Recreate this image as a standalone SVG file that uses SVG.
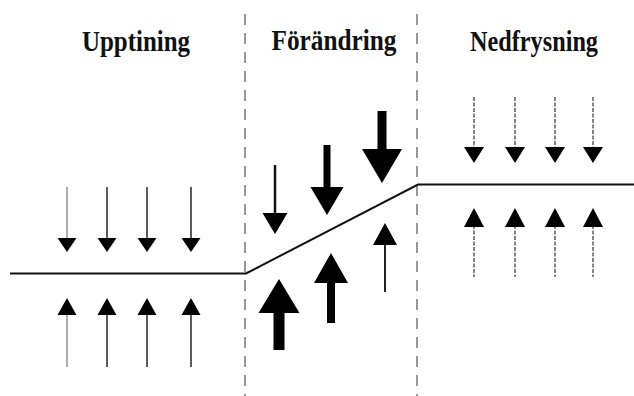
<svg xmlns="http://www.w3.org/2000/svg" width="634" height="396" viewBox="0 0 634 396">
<style>
.title{font-family:"Liberation Serif","Times New Roman",serif;font-weight:bold;font-size:29px;fill:#111;text-anchor:middle}
.div{stroke:#777;stroke-width:1.5;stroke-dasharray:11 8;fill:none}
.bound{stroke:#111;stroke-width:2;fill:none}
.shaft{stroke:#333;stroke-width:1.6}
.shaftl{stroke:#999;stroke-width:1.6}
.shaftd{stroke:#666;stroke-width:1.6;stroke-dasharray:4 1.5}
.head{fill:#000}
</style>
<rect width="634" height="396" fill="#fff"/>
<g id="titles">
<text class="title" x="136" y="51" textLength="108" lengthAdjust="spacingAndGlyphs">Upptining</text>
<text class="title" x="334" y="50" textLength="125" lengthAdjust="spacingAndGlyphs">Förändring</text>
<text class="title" x="534" y="51" textLength="128" lengthAdjust="spacingAndGlyphs">Nedfrysning</text>
</g>
<g id="dividers">
<line class="div" x1="245" y1="14" x2="245" y2="396"/>
<line class="div" x1="417" y1="14" x2="417" y2="396"/>
</g>
<g id="boundary">
<polyline class="bound" points="10,273.5 246,273.5 418,184.5 634,184.5"/>
</g>
<g id="upptining-arrows">
<line class="shaftl" x1="67" y1="187" x2="67" y2="240"/><polygon class="head" points="57.5,238 76.5,238 67,252"/>
<line class="shaft" x1="107" y1="187" x2="107" y2="240"/><polygon class="head" points="97.5,238 116.5,238 107,252"/>
<line class="shaft" x1="147" y1="187" x2="147" y2="240"/><polygon class="head" points="137.5,238 156.5,238 147,252"/>
<line class="shaft" x1="191" y1="187" x2="191" y2="240"/><polygon class="head" points="181.5,238 200.5,238 191,252"/>
<line class="shaftl" x1="67" y1="313" x2="67" y2="367"/><polygon class="head" points="57.5,315 76.5,315 67,298"/>
<line class="shaft" x1="107" y1="313" x2="107" y2="367"/><polygon class="head" points="97.5,315 116.5,315 107,298"/>
<line class="shaft" x1="147" y1="313" x2="147" y2="367"/><polygon class="head" points="137.5,315 156.5,315 147,298"/>
<line class="shaft" x1="191" y1="313" x2="191" y2="367"/><polygon class="head" points="181.5,315 200.5,315 191,298"/>
</g>
<g id="forandring-arrows">
<line x1="275" y1="165" x2="275" y2="215" stroke="#111" stroke-width="2.5"/><polygon class="head" points="262.5,213 287.5,213 275,234"/>
<polygon class="head" points="323.5,145 330.5,145 330.5,187 343.5,187 327,215 310.5,187 323.5,187"/>
<polygon class="head" points="377.5,111 386.5,111 386.5,149 402,149 382,183 362,149 377.5,149"/>
<polygon class="head" points="279,279 299.5,313 284.5,313 284.5,350 273.5,350 273.5,313 258.5,313"/>
<polygon class="head" points="331,253 348,283 335,283 335,323 327,323 327,283 314,283"/>
<line x1="385" y1="243" x2="385" y2="292" stroke="#222" stroke-width="2"/><polygon class="head" points="385,223 397,245 373,245"/>
</g>
<g id="nedfrysning-arrows">
<line class="shaftd" x1="474" y1="97" x2="474" y2="149"/><polygon class="head" points="464,147 484,147 474,163"/>
<line class="shaftd" x1="515" y1="97" x2="515" y2="149"/><polygon class="head" points="505,147 525,147 515,163"/>
<line class="shaftd" x1="555" y1="97" x2="555" y2="149"/><polygon class="head" points="545,147 565,147 555,163"/>
<line class="shaftd" x1="593" y1="97" x2="593" y2="149"/><polygon class="head" points="583,147 603,147 593,163"/>
<line class="shaftd" x1="474" y1="225" x2="474" y2="277"/><polygon class="head" points="464,227 484,227 474,208"/>
<line class="shaftd" x1="515" y1="225" x2="515" y2="277"/><polygon class="head" points="505,227 525,227 515,208"/>
<line class="shaftd" x1="555" y1="225" x2="555" y2="277"/><polygon class="head" points="545,227 565,227 555,208"/>
<line class="shaftd" x1="593" y1="225" x2="593" y2="277"/><polygon class="head" points="583,227 603,227 593,208"/>
</g>
</svg>
